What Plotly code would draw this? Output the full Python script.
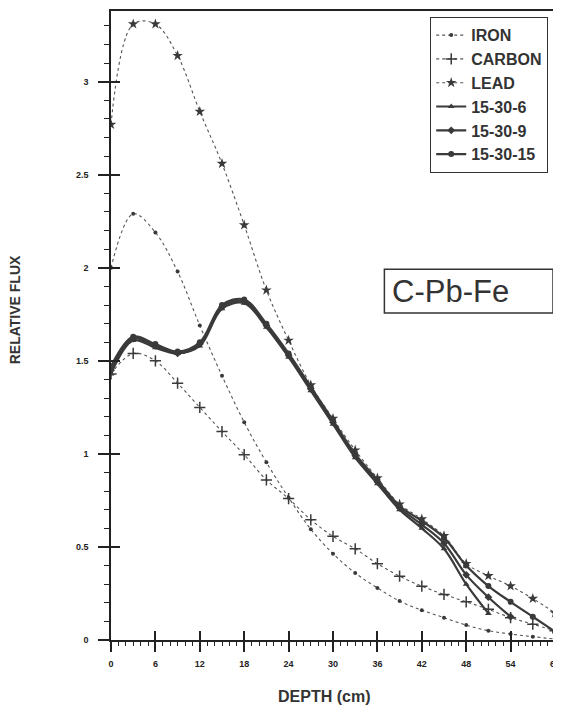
import plotly.graph_objects as go

# ---- data ----
depth = [0, 3, 6, 9, 12, 15, 18, 21, 24, 27, 30, 33, 36, 39, 42, 45, 48, 51, 54, 57, 60]

iron = [2.00, 2.29, 2.19, 1.98, 1.69, 1.42, 1.17, 0.955, 0.765, 0.595, 0.464, 0.36, 0.28,
        0.209, 0.16, 0.12, 0.08, 0.05, 0.032, 0.018, 0.005]
carbon = [1.43, 1.54, 1.50, 1.38, 1.25, 1.12, 0.996, 0.86, 0.76, 0.646, 0.557, 0.49, 0.41,
          0.343, 0.289, 0.245, 0.205, 0.165, 0.12, 0.085, 0.05]
lead = [2.77, 3.31, 3.31, 3.14, 2.84, 2.56, 2.23, 1.88, 1.61, 1.37, 1.19, 1.02, 0.87,
        0.73, 0.65, 0.56, 0.41, 0.345, 0.29, 0.223, 0.145]

depth_6 = depth[:18]
s_15_30_6 = [1.43, 1.61, 1.57, 1.54, 1.58, 1.78, 1.81, 1.68, 1.52, 1.34, 1.16, 0.98, 0.84,
             0.70, 0.60, 0.49, 0.30, 0.143]
depth_9 = depth[:19]
s_15_30_9 = [1.45, 1.62, 1.58, 1.54, 1.59, 1.79, 1.82, 1.69, 1.53, 1.35, 1.17, 0.99, 0.85,
             0.71, 0.62, 0.52, 0.35, 0.23, 0.125]
depth_15 = depth
s_15_30_15 = [1.47, 1.63, 1.59, 1.55, 1.60, 1.80, 1.83, 1.70, 1.54, 1.36, 1.18, 1.00, 0.86,
              0.72, 0.64, 0.55, 0.40, 0.29, 0.205, 0.125, 0.045]

x_ticks = [0, 6, 12, 18, 24, 30, 36, 42, 48, 54, 60]
y_ticks = [0, 0.5, 1, 1.5, 2, 2.5, 3]
y_tick_text = ["0", "0.5", "1", "1.5", "2", "2.5", "3"]

# ---- figure geometry (page has an 8px body margin) ----
OFF = 8
W, H = 561 - OFF, 707 - OFF
L, R, T, B = 103, 5, 1, 67
pw, ph = W - L - R, H - T - B

def px_x(px):
    return (px - OFF - L) / pw

def px_y(py):
    return (H - B - (py - OFF)) / ph

FONT = "Liberation Sans, Arial, sans-serif"
dark = "#3a3a3a"
mid = "#555555"

fig = go.Figure()

def dotted(name, x, y, symbol, size, mlw=0):
    fig.add_trace(go.Scatter(
        x=x, y=y, name=name, mode="lines+markers",
        line=dict(color=mid, width=1.1, dash="dot", shape="spline", smoothing=1),
        marker=dict(symbol=symbol, size=size, color=dark,
                    line=dict(color=dark, width=mlw)),
    ))

def solid(name, x, y, symbol, size):
    fig.add_trace(go.Scatter(
        x=x, y=y, name=name, mode="lines+markers",
        line=dict(color=dark, width=2.2, shape="spline", smoothing=1),
        marker=dict(symbol=symbol, size=size, color=dark),
    ))

dotted("IRON", depth, iron, "circle", 4)
dotted("CARBON", depth, carbon, "cross-thin", 8, mlw=1.5)
dotted("LEAD", depth, lead, "star", 8)
solid("15-30-6", depth_6, s_15_30_6, "triangle-up", 6)
solid("15-30-9", depth_9, s_15_30_9, "diamond", 6)
solid("15-30-15", depth_15, s_15_30_15, "circle", 6)

# helper trace for the overlaid (inside-tick) axes
fig.add_trace(go.Scatter(x=[None], y=[None], xaxis="x2", yaxis="y2",
                         showlegend=False, hoverinfo="skip"))

YMAX = 3.38
tickfont = dict(family=FONT, size=9, color="#222", weight="bold")

fig.update_layout(
    width=W, height=H,
    margin=dict(l=L, r=R, t=T, b=B, pad=0),
    paper_bgcolor="white", plot_bgcolor="white",
    showlegend=True,
    legend=dict(
        x=px_x(549), y=px_y(15), xanchor="right", yanchor="top",
        bgcolor="white", bordercolor="#333", borderwidth=1.2,
        font=dict(family=FONT, size=16, color="#333", weight="bold"),
        itemwidth=30, tracegroupgap=0,
    ),
    xaxis=dict(
        range=[0, 60], tickvals=x_ticks, ticktext=[str(v) for v in x_ticks],
        ticks="outside", ticklen=10, tickwidth=1.5, tickcolor="#222",
        minor=dict(dtick=1, ticks="outside", ticklen=4, tickwidth=1, tickcolor="#222"),
        showline=True, linecolor="#222", linewidth=1.5, mirror=True,
        showgrid=False, zeroline=False, tickfont=tickfont, ticklabelstandoff=4,
        ticklabeloverflow="allow",
    ),
    yaxis=dict(
        range=[0, YMAX], tickvals=y_ticks, ticktext=y_tick_text,
        ticks="outside", ticklen=11, tickwidth=1.5, tickcolor="#222",
        minor=dict(dtick=0.1, ticks="outside", ticklen=5, tickwidth=1, tickcolor="#222"),
        showline=True, linecolor="#222", linewidth=1.5, mirror=True,
        showgrid=False, zeroline=False, tickfont=tickfont, ticklabelstandoff=8,
    ),
    xaxis2=dict(
        range=[0, 60], overlaying="x", anchor="y2", side="bottom",
        tickvals=x_ticks, ticks="inside", ticklen=9, tickwidth=1.5, tickcolor="#222",
        showticklabels=False, showline=False, showgrid=False, zeroline=False,
    ),
    yaxis2=dict(
        range=[0, YMAX], overlaying="y", anchor="x2", side="left",
        tickvals=y_ticks, ticks="inside", ticklen=9, tickwidth=1.5, tickcolor="#222",
        showticklabels=False, showline=False, showgrid=False, zeroline=False,
    ),
    shapes=[dict(
        type="rect", xref="paper", yref="paper",
        x0=px_x(385), x1=px_x(554), y0=px_y(312), y1=px_y(268),
        line=dict(color="#333", width=1.5), fillcolor="rgba(0,0,0,0)",
    )],
    annotations=[
        dict(text="C-Pb-Fe", xref="paper", yref="paper",
             x=px_x(391), y=px_y(290), xanchor="left", yanchor="middle",
             showarrow=False, font=dict(family=FONT, size=31, color="#333")),
        dict(text="RELATIVE FLUX", xref="paper", yref="paper",
             x=px_x(15), y=px_y(309), xanchor="center", yanchor="middle",
             textangle=-90, showarrow=False,
             font=dict(family=FONT, size=14, color="#333", weight="bold")),
        dict(text="DEPTH (cm)", xref="paper", yref="paper",
             x=px_x(324), y=px_y(697), xanchor="center", yanchor="middle",
             showarrow=False,
             font=dict(family=FONT, size=16, color="#333", weight="bold")),
    ],
)

fig.write_html("out.html")
